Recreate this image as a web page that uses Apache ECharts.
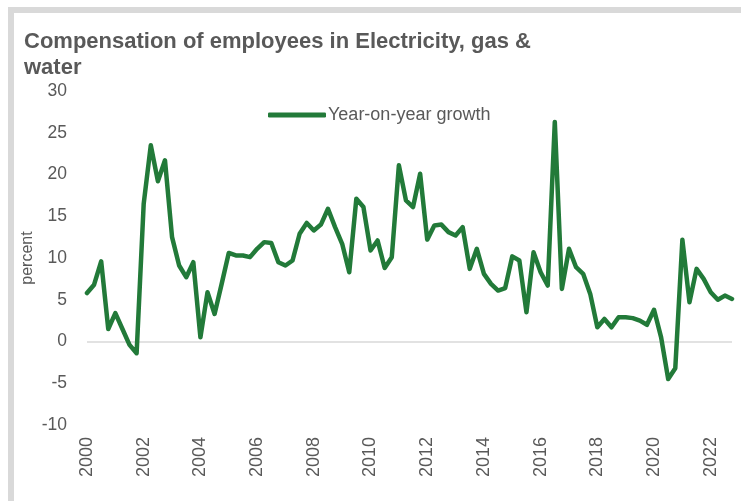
<!DOCTYPE html>
<html>
<head>
<meta charset="utf-8">
<script src="https://cdn.jsdelivr.net/npm/echarts@6/dist/echarts.min.js"></script>
<style>
	html, body { margin: 0; padding: 0; background: #fff; }
	#chart { width: 741px; height: 501px; }
</style>
</head>
<body>
<div id="chart"></div>
<script>
// quarterly year-on-year growth, 2000 Q1 - 2022 Q4
var years = [2000, 2001, 2002, 2003, 2004, 2005, 2006, 2007, 2008, 2009, 2010, 2011,
		2012, 2013, 2014, 2015, 2016, 2017, 2018, 2019, 2020, 2021, 2022];
var quarters = ['Q1', 'Q2', 'Q3', 'Q4'];

var growth = [
	5.8, 6.8, 9.6, 1.5, 3.4, 1.5, -0.4, -1.4,
	16.5, 23.5, 19.2, 21.7, 12.5, 9.1, 7.7, 9.5,
	0.5, 5.9, 3.3, 6.9, 10.6, 10.3, 10.3, 10.1,
	11.1, 11.9, 11.8, 9.5, 9.1, 9.7, 12.9, 14.2,
	13.3, 14.0, 15.9, 13.7, 11.7, 8.3, 17.1, 16.1,
	10.9, 12.1, 8.8, 10.1, 21.1, 16.9, 16.1, 20.1,
	12.2, 13.9, 14.0, 13.1, 12.7, 13.7, 8.7, 11.1,
	8.1, 6.9, 6.1, 6.4, 10.2, 9.7, 3.5, 10.7,
	8.3, 6.7, 26.3, 6.3, 11.1, 8.9, 8.1, 5.7,
	1.7, 2.7, 1.7, 2.9, 2.9, 2.8, 2.5, 2.0,
	3.8, 0.5, -4.5, -3.2, 12.2, 4.7, 8.7, 7.5,
	5.9, 5.0, 5.5, 5.1
];

var yTicks = [-10, -5, 0, 5, 10, 15, 20, 25, 30];

var categories = [];
for (var i = 0; i < years.length; i++) {
	for (var q = 0; q < quarters.length; q++) {
		categories.push(years[i] + ' ' + quarters[q]);
	}
}

var lineColor = '#227a39';
var textColor = '#595959';

var chart = echarts.init(document.getElementById('chart'));

var option = {
	animation : false,
	backgroundColor : '#fff',
	textStyle : {
		fontFamily : 'Liberation Sans, Arial, sans-serif'
	},
	graphic : [ {
		type : 'rect',
		silent : true,
		shape : { x : 11, y : 10, width : 800, height : 600 },
		style : { fill : null, stroke : '#d9d9d9', lineWidth : 6 }
	} ],
	title : {
		text : 'Compensation of employees in Electricity, gas &\nwater',
		left : 19,
		top : 24,
		textStyle : {
			color : textColor,
			fontSize : 22,
			fontWeight : 'bold',
			lineHeight : 26
		}
	},
	legend : {
		data : [ 'Year-on-year growth' ],
		left : 263,
		top : 101,
		icon : 'roundRect',
		itemWidth : 58,
		itemHeight : 5,
		itemGap : 4,
		textStyle : { color : textColor, fontSize : 18, padding : [0, 0, 0, -3] }
	},
	grid : {
		left : 87,
		right : 9,
		top : 91,
		bottom : 76,
		containLabel : false
	},
	xAxis : {
		type : 'category',
		boundaryGap : false,
		data : categories,
		axisLine : { show : false },
		axisTick : { show : false },
		axisLabel : {
			interval : 7,
			rotate : 90,
			margin : 12,
			color : textColor,
			fontSize : 18,
			formatter : function(v) {
				return v.split(' ')[0];
			}
		}
	},
	yAxis : {
		type : 'value',
		min : yTicks[0],
		max : yTicks[yTicks.length - 1],
		interval : 5,
		name : 'percent',
		nameLocation : 'middle',
		nameGap : 51,
		nameMoveOverlap : false,
		nameTextStyle : { color : textColor, fontSize : 16 },
		axisLine : { show : false },
		axisTick : { show : false },
		splitLine : { show : false },
		axisLabel : { color : textColor, fontSize : 17.5, margin : 20 }
	},
	series : [ {
		name : 'Year-on-year growth',
		type : 'line',
		data : growth,
		showSymbol : false,
		symbol : 'none',
		z : 3,
		lineStyle : {
			color : lineColor,
			width : 4.5,
			cap : 'round',
			join : 'round'
		},
		itemStyle : { color : lineColor },
		markLine : {
			silent : true,
			symbol : 'none',
			label : { show : false },
			lineStyle : { color : '#d9d9d9', width : 1.5, type : 'solid' },
			data : [ { yAxis : 0 } ],
			z : 1
		}
	} ]
};

chart.setOption(option);
</script>
</body>
</html>
